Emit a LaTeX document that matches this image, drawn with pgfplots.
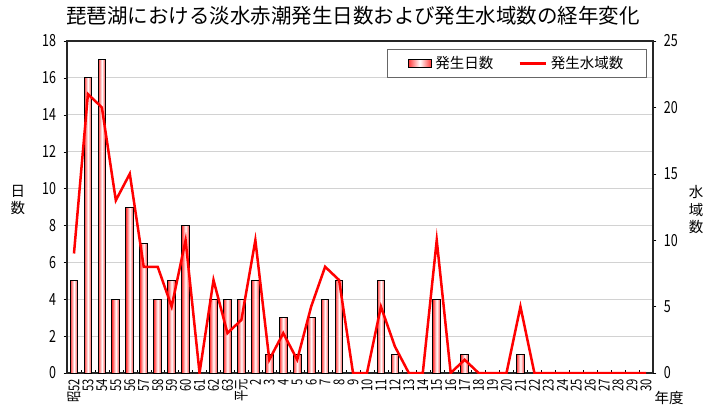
\documentclass[border=0pt]{standalone}
\usepackage{fontspec}
\setmainfont{Noto Sans CJK JP}
\newfontfamily\numfont[FakeStretch=0.75]{Noto Sans CJK JP}
\usepackage{pgfplots}
\pgfplotsset{compat=1.18}
\usepackage{pgfplotstable}

\pgfplotstableread{
x a
0 9
1 21
2 20
3 13
4 15
5 8
6 8
7 5
8 10
9 0
10 7
11 3
12 4
13 10
14 1
15 3
16 1
17 5
18 8
19 7
20 0
21 0
22 5
23 2
24 0
25 0
26 10
27 0
28 1
29 0
30 0
31 0
32 5
33 0
34 0
35 0
36 0
37 0
38 0
39 0
40 0
41 0
}\areadata

\pgfplotsset{
  dbar/.style={ybar, bar width=0.55, bar shift=0pt, draw=black, line width=0.6pt,
    left color=red!80, right color=red!80, middle color=white, forget plot},
}

\begin{document}
\begin{tikzpicture}
\begin{axis}[
  name=ax,
  scale only axis,
  width=351.6pt, height=199.2pt,
  xmin=-0.5, xmax=41.5,
  ymin=0, ymax=18,
  ytick={0,2,...,18},
  ytick pos=left,
  xtick={0,...,41},
  xticklabels={昭52,53,54,55,56,57,58,59,60,61,62,63,平元,2,3,4,5,6,7,8,9,10,11,12,13,14,15,16,17,18,19,20,21,22,23,24,25,26,27,28,29,30},
  xtick pos=bottom,
  minor xtick={0.5,1.5,...,40.5},
  major x tick style={draw=none},
  tick align=inside,
  major tick length=2pt,
  minor tick length=2pt,
  major y tick style={xshift=-2pt, black},
  minor x tick style={black},
  ymajorgrids,
  grid style={gray!35, line width=0.6pt},
  axis line style={black!85, line width=0.7pt},
  /pgf/number format/assume math mode=true,
  y tick label style={font=\numfont\fontsize{10}{12}\selectfont, xshift=-3pt},
  x tick label style={font=\numfont\fontsize{9}{10}\selectfont, rotate=90, anchor=east, xshift=0pt},
]
% 発生日数 (one plot per bar so that each bar has its own shading)
\addplot[dbar] coordinates {(0,5)};
\addplot[dbar] coordinates {(1,16)};
\addplot[dbar] coordinates {(2,17)};
\addplot[dbar] coordinates {(3,4)};
\addplot[dbar] coordinates {(4,9)};
\addplot[dbar] coordinates {(5,7)};
\addplot[dbar] coordinates {(6,4)};
\addplot[dbar] coordinates {(7,5)};
\addplot[dbar] coordinates {(8,8)};
\addplot[dbar] coordinates {(10,4)};
\addplot[dbar] coordinates {(11,4)};
\addplot[dbar] coordinates {(12,4)};
\addplot[dbar] coordinates {(13,5)};
\addplot[dbar] coordinates {(14,1)};
\addplot[dbar] coordinates {(15,3)};
\addplot[dbar] coordinates {(16,1)};
\addplot[dbar] coordinates {(17,3)};
\addplot[dbar] coordinates {(18,4)};
\addplot[dbar] coordinates {(19,5)};
\addplot[dbar] coordinates {(22,5)};
\addplot[dbar] coordinates {(23,1)};
\addplot[dbar] coordinates {(26,4)};
\addplot[dbar] coordinates {(28,1)};
\addplot[dbar] coordinates {(32,1)};
\end{axis}
\begin{axis}[
  scale only axis,
  width=351.6pt, height=199.2pt,
  xmin=-0.5, xmax=41.5,
  ymin=0, ymax=25,
  ytick={0,5,...,25},
  axis x line=none,
  axis y line*=right,
  tick align=inside,
  major tick length=2pt,
  major y tick style={xshift=2pt, black},
  axis line style={black!85, line width=0.7pt},
  /pgf/number format/assume math mode=true,
  y tick label style={font=\numfont\fontsize{10}{12}\selectfont, xshift=3pt},
  legend style={at={(0.99,0.976)}, anchor=north east, legend columns=2,
    draw=black!60, line width=0.6pt, font=\fontsize{8.7}{10}\selectfont,
    inner xsep=12pt, inner ysep=2pt,
    /tikz/every even column/.append style={column sep=13pt}},
  legend cell align=left,
]
\addlegendimage{legend image code/.code={\draw[draw=black, line width=0.6pt, left color=red!80, right color=red!80, middle color=white] (0pt,-2.4pt) rectangle (14pt,2.4pt);}}
\addlegendentry{発生日数}
\addplot[red, line width=1.5pt, line join=miter, mark=none,
  legend image code/.code={\draw[red, line width=1.5pt] (0pt,0pt) -- (16pt,0pt);}]
  table[x=x, y=a]{\areadata};
\addlegendentry{発生水域数}
\end{axis}
\begin{scope}[x=0.6pt, y=-0.6pt, shift={(ax.south west)}, shift={(-67,-373)}]
  \node[font=\fontsize{12.3}{14}\selectfont] at (353,16) {琵琶湖における淡水赤潮発生日数および発生水域数の経年変化};
  \node[font=\fontsize{8.7}{10.5}\selectfont, align=center] at (18,200) {日\\数};
  \node[font=\fontsize{8.7}{10.5}\selectfont, align=center] at (696,210) {水\\域\\数};
  \node[font=\fontsize{8.7}{10}\selectfont] at (669,398) {年度};
  \pgfresetboundingbox
  \path[use as bounding box] (0,0) rectangle (716,412);
\end{scope}
\end{tikzpicture}
\end{document}
